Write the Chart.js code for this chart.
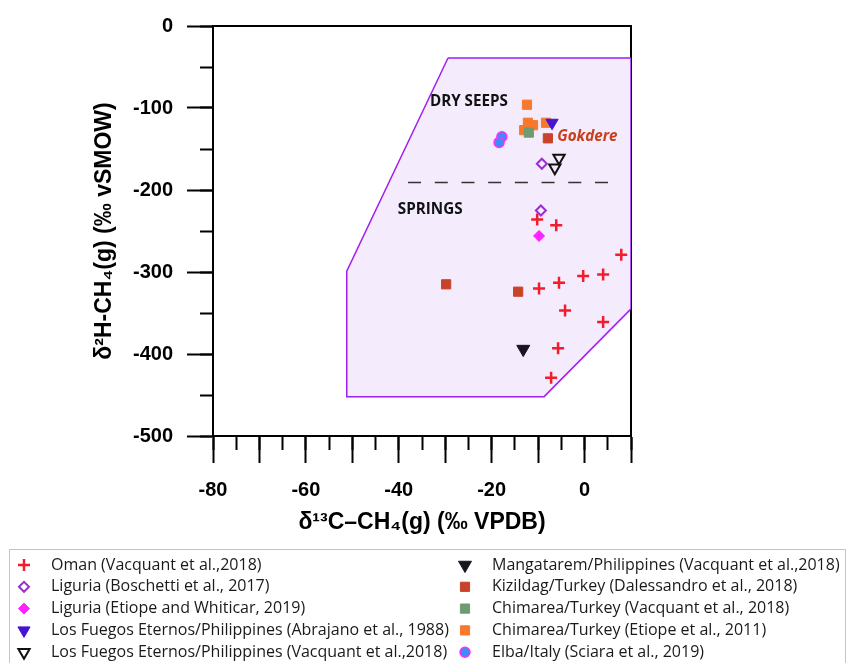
<!DOCTYPE html>
<html>
<head>
<meta charset="utf-8">
<script src="https://cdn.jsdelivr.net/npm/chart.js@4/dist/chart.umd.min.js"></script>
<style>
  html, body { margin: 0; padding: 0; background: #fff; }
  canvas { display: block; }
</style>
</head>
<body>
<canvas id="isoChart" width="850" height="663"></canvas>
<script>
// values (δ13C ‰ VPDB, δ2H ‰ vSMOW)
const omanX = [-10.2, -6.1, 7.9, 4.0, -0.3, -5.5, -9.8, -4.2, 4.0, -5.7, -7.2];
const omanY = [-236, -243, -279, -303, -305, -313, -320, -347, -361, -393, -429];
const ligBoschX = [-9.2, -9.4];
const ligBoschY = [-168, -225];
const ligEtiopeX = [-9.8];
const ligEtiopeY = [-256];
const fuegosAbrX = [-7.0];
const fuegosAbrY = [-118];
const fuegosVacX = [-5.5, -6.4];
const fuegosVacY = [-161, -173];
const mangX = [-13.2];
const mangY = [-394];
const kizX = [-7.9, -29.8, -14.3];
const kizY = [-137, -315, -324];
const chimVacX = [-12.0];
const chimVacY = [-130];
const chimEtX = [-12.4, -12.2, -11.1, -13.0, -8.3];
const chimEtY = [-96, -118, -121, -127, -118];
const elbaX = [-17.8, -18.4];
const elbaY = [-135, -142];

// serpentinization field outline and dry seeps / springs divider
const fieldX = [-29.4, 10, 10, -8.7, -51.2, -51.2, -29.4];
const fieldY = [-39, -39, -345, -452, -452, -299, -39];
const dividerX = [-38, 8];
const dividerY = [-191, -191];

const xTicksLabelEvery = 20;
const xTitle = "δ¹³C–CH₄(g) (‰ VPDB)";
const yTitle = "δ²H-CH₄(g) (‰ vSMOW)";

const fieldLabels = [
  { text: "DRY SEEPS", x: -33.3, y: -92, color: "#111", font: "bold 16px 'Open Sans'" },
  { text: "SPRINGS", x: -40.2, y: -224, color: "#111", font: "bold 16px 'Open Sans'" },
  { text: "Gokdere", x: -5.9, y: -135, color: "#c8401a", font: "italic bold 16px 'Open Sans'" },
];

const pts = (xs, ys) => xs.map((x, i) => ({ x, y: ys[i] }));
const axisFont = { family: "'Liberation Sans', Arial, sans-serif", size: 20, weight: "bold" };
const titleFont = { family: "'Liberation Sans', Arial, sans-serif", size: 23, weight: "bold" };

function markers(label, xs, ys, style) {
  return {
    label, data: pts(xs, ys), inLegend: true, showLine: false,
    pointStyle: style.shape, pointRadius: style.r, pointRotation: style.rot || 0,
    backgroundColor: style.fill, borderColor: style.line,
    borderWidth: style.bw, pointBorderWidth: style.bw, pointHoverRadius: style.r,
  };
}

const datasets = [
  markers("Oman (Vacquant et al.,2018)", omanX, omanY, { shape: "cross", r: 6, fill: "#f21c2c", line: "#f21c2c", bw: 2.5 }),
  markers("Liguria (Boschetti et al., 2017)", ligBoschX, ligBoschY, { shape: "rectRot", r: 5, fill: "rgba(0,0,0,0)", line: "#9a2fd0", bw: 2 }),
  markers("Liguria (Etiope and Whiticar, 2019)", ligEtiopeX, ligEtiopeY, { shape: "rectRot", r: 5.5, fill: "#ff22ff", line: "#ff22ff", bw: 1 }),
  markers("Los Fuegos Eternos/Philippines (Abrajano et al., 1988)", fuegosAbrX, fuegosAbrY, { shape: "triangle", r: 7, rot: 180, fill: "#4612d6", line: "#4612d6", bw: 1 }),
  markers("Los Fuegos Eternos/Philippines (Vacquant et al.,2018)", fuegosVacX, fuegosVacY, { shape: "triangle", r: 6.5, rot: 180, fill: "rgba(0,0,0,0)", line: "#111", bw: 2 }),
  markers("Mangatarem/Philippines (Vacquant et al.,2018)", mangX, mangY, { shape: "triangle", r: 7.5, rot: 180, fill: "#1a1420", line: "#1a1420", bw: 1 }),
  markers("Kizildag/Turkey (Dalessandro et al., 2018)", kizX, kizY, { shape: "rect", r: 6.5, fill: "#c8432a", line: "#c8432a", bw: 1 }),
  markers("Chimarea/Turkey (Vacquant et al., 2018)", chimVacX, chimVacY, { shape: "rect", r: 6.5, fill: "#6f9a72", line: "#6f9a72", bw: 1 }),
  markers("Chimarea/Turkey (Etiope et al., 2011)", chimEtX, chimEtY, { shape: "rect", r: 6.5, fill: "#f8782c", line: "#f8782c", bw: 1 }),
  markers("Elba/Italy (Sciara et al., 2019)", elbaX, elbaY, { shape: "circle", r: 5, fill: "#3d8ef2", line: "#ff2cff", bw: 1.5 }),
  {
    label: "field", data: pts(fieldX, fieldY), showLine: true, fill: "shape", order: 10,
    backgroundColor: "#f4ebfd", borderColor: "#a020f0", borderWidth: 1.5, pointRadius: 0, tension: 0,
  },
  {
    label: "divider", data: pts(dividerX, dividerY), showLine: true, fill: false, order: 9,
    borderColor: "#333", borderWidth: 1.5, borderDash: [13, 13.7], pointRadius: 0,
  },
];

const fieldLabelPlugin = {
  id: "fieldLabels",
  afterDatasetsDraw(chart) {
    const { ctx, scales: { x, y } } = chart;
    for (const a of fieldLabels) {
      ctx.save();
      ctx.font = a.font;
      ctx.fillStyle = a.color;
      ctx.textAlign = "left";
      ctx.textBaseline = "middle";
      ctx.translate(x.getPixelForValue(a.x), y.getPixelForValue(a.y));
      ctx.scale(0.95, 1);
      ctx.fillText(a.text, 0, 0);
      ctx.restore();
    }
  },
};

// boxed two-column legend under the plot, like the original figure
const boxLegendPlugin = {
  id: "boxLegend",
  afterDraw(chart) {
    const ctx = chart.ctx;
    const items = chart.data.datasets.filter((d) => d.inLegend);
    ctx.save();
    ctx.strokeStyle = "#c4c4c4";
    ctx.lineWidth = 1;
    ctx.strokeRect(9.5, 549.5, 836, 130);
    items.forEach((d, i) => {
      const col = Math.floor(i / 5), row = i % 5;
      const mx = col ? 465 : 24, tx = col ? 492 : 51, my = 565 + row * 21.8;
      ctx.fillStyle = d.backgroundColor;
      ctx.strokeStyle = d.borderColor;
      ctx.lineWidth = d.borderWidth;
      Chart.helpers.drawPoint(ctx, { pointStyle: d.pointStyle, rotation: d.pointRotation, radius: d.pointRadius, borderWidth: d.borderWidth }, mx, my);
      ctx.font = "16px 'Open Sans'";
      ctx.fillStyle = "#1a1a1a";
      ctx.textAlign = "left";
      ctx.textBaseline = "middle";
      ctx.fillText(d.label, tx, my);
    });
    ctx.restore();
  },
};

const frameScale = (position) => ({
  type: "linear", position, display: true,
  min: position === "top" ? -80 : -500, max: position === "top" ? 10 : 0,
  ticks: { display: false }, grid: { drawOnChartArea: false, drawTicks: false },
  border: { color: "#000", width: 2 },
  afterFit: (s) => { if (position === "top") s.height = 0; else s.width = 0; },
});

new Chart(document.getElementById("isoChart"), {
  type: "scatter",
  data: { datasets },
  plugins: [fieldLabelPlugin, boxLegendPlugin],
  options: {
    responsive: false,
    animation: false,
    devicePixelRatio: 1,
    layout: { padding: { left: 0, right: 219, top: 20, bottom: 118 } },
    plugins: { legend: { display: false }, tooltip: { enabled: false } },
    scales: {
      x: {
        type: "linear", position: "bottom", min: -80, max: 10, weight: 1,
        ticks: {
          stepSize: 10, autoSkip: false, maxRotation: 0, padding: 15, color: "#000", font: axisFont,
          callback: (v) => (Math.round(v) % xTicksLabelEvery === 0 ? String(Math.round(v)) : ""),
        },
        grid: { drawOnChartArea: false, tickLength: 27, tickWidth: 2, tickColor: "#000" },
        border: { color: "#000", width: 2 },
        title: { display: true, text: xTitle, color: "#000", font: titleFont, padding: { top: 0, bottom: 9 } },
        afterFit: (s) => { s.height = 109; },
      },
      xMinor: {
        type: "linear", position: "bottom", min: -80, max: 10, weight: 0,
        ticks: { stepSize: 5, display: false },
        grid: { drawOnChartArea: false, tickLength: 14, tickWidth: 2, tickColor: "#000" },
        border: { color: "#000", width: 2 },
        afterFit: (s) => { s.height = 0; },
      },
      y: {
        type: "linear", position: "left", min: -500, max: 0, weight: 1,
        ticks: { stepSize: 100, padding: 14, color: "#000", font: axisFont },
        grid: { drawOnChartArea: false, tickLength: 26, tickWidth: 2, tickColor: "#000" },
        border: { color: "#000", width: 2 },
        title: { display: true, text: yTitle, color: "#000", font: titleFont, padding: { top: 91, bottom: 0 } },
        afterFit: (s) => { s.width = 213; },
      },
      yMinor: {
        type: "linear", position: "left", min: -500, max: 0, weight: 0,
        ticks: { stepSize: 50, display: false },
        grid: { drawOnChartArea: false, tickLength: 13, tickWidth: 2, tickColor: "#000" },
        border: { color: "#000", width: 2 },
        afterFit: (s) => { s.width = 0; },
      },
      xTop: frameScale("top"),
      yRight: frameScale("right"),
    },
  },
});
</script>
</body>
</html>
